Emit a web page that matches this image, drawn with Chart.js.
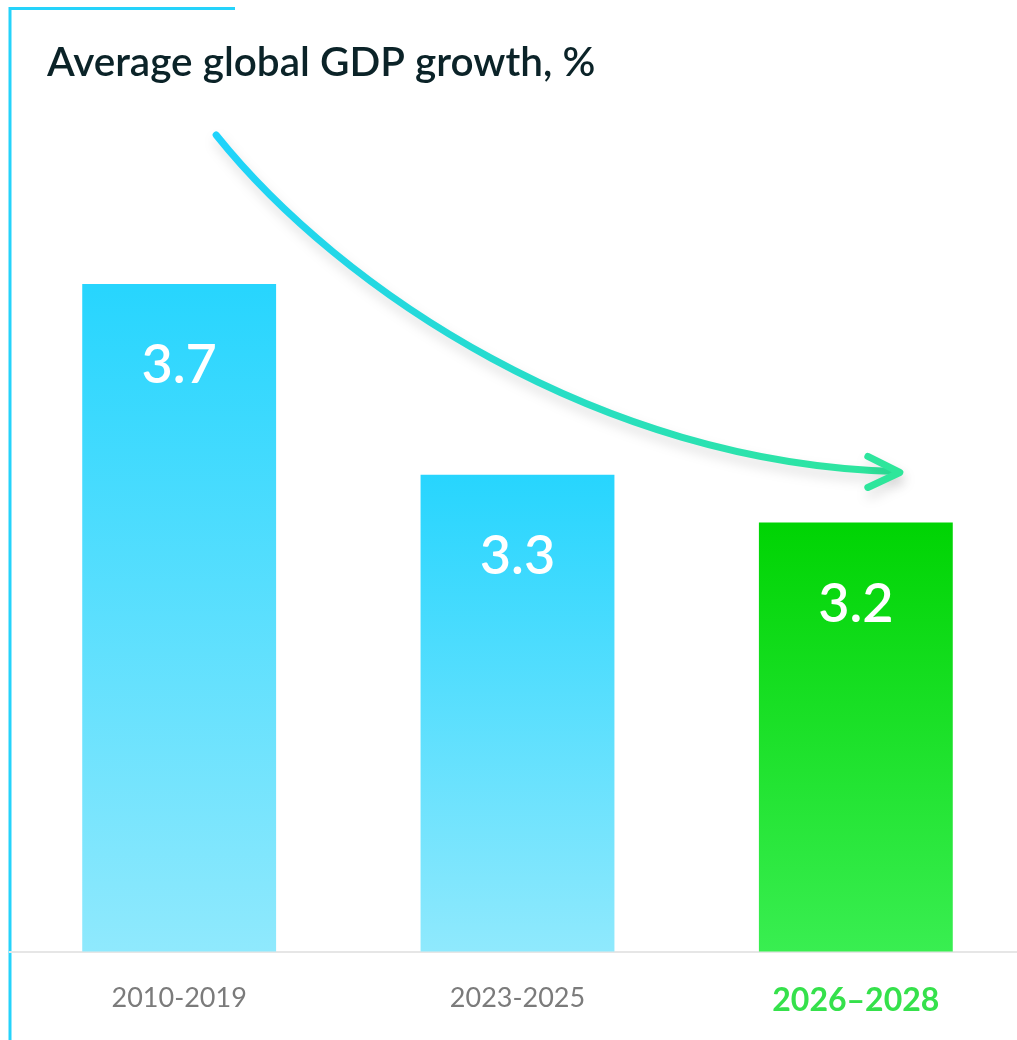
<!DOCTYPE html>
<html>
<head>
<meta charset="utf-8">
<script src="https://cdn.jsdelivr.net/npm/chart.js@4.4.1/dist/chart.umd.min.js"></script>
<style>
  html, body { margin: 0; padding: 0; background: #ffffff; overflow: hidden; width: 1017px; height: 1040px; }
  #wrap { position: absolute; left: 0; top: 0; width: 1030px; height: 1076px; }
</style>
</head>
<body>
<div id="wrap"><canvas id="gdp" width="1030" height="1076"></canvas></div>
<script>
// Average global GDP growth by period, %
const periods = ['2010-2019', '2023-2025', '2026\u20132028'];
const growth = [3.7, 3.3, 3.2];
const chartTitle = 'Average global GDP growth, %';

// colour ramps for each bar (top -> bottom)
const barTop = ['#27d5fe', '#27d5fe', '#00d403'];
const barBottom = ['#8fe9fd', '#8fe9fd', '#39ee51'];
const tickColors = ['#7b7b7b', '#7b7b7b', '#35e14b'];
const CYAN = '#25d3fb';

function barGradient(ctx) {
  const chart = ctx.chart;
  const area = chart.chartArea;
  if (!area) return barTop[ctx.dataIndex];
  const y = chart.scales.y.getPixelForValue(growth[ctx.dataIndex]);
  const g = chart.ctx.createLinearGradient(0, y, 0, area.bottom);
  g.addColorStop(0, barTop[ctx.dataIndex]);
  g.addColorStop(1, barBottom[ctx.dataIndex]);
  return g;
}

// frame lines, heading, value labels and the trend arrow
const decor = {
  id: 'decor',
  beforeDraw(chart) {
    const c = chart.ctx;
    c.save();
    c.strokeStyle = CYAN;
    c.lineWidth = 3;
    c.beginPath();
    c.moveTo(10, 1076);
    c.lineTo(10, 8.5);
    c.lineTo(235, 8.5);
    c.stroke();
    c.fillStyle = '#0b2328';
    c.font = '600 40.5px Lato';
    c.textAlign = 'left';
    c.textBaseline = 'middle';
    c.fillText(chartTitle, 47, 63);
    c.restore();
  },
  afterDatasetsDraw(chart) {
    const c = chart.ctx;
    const bars = chart.getDatasetMeta(0).data;
    c.save();
    c.fillStyle = '#ffffff';
    c.font = '600 54px Lato';
    c.textAlign = 'center';
    c.textBaseline = 'middle';
    bars.forEach((b, i) => {
      c.fillText(growth[i].toFixed(1), b.x, b.y + 82);
    });

    // trend arrow from above the first bar to above the last bar
    const first = bars[0], last = bars[bars.length - 1];
    const x0 = first.x + 37, y0 = 135;
    const x3 = last.x + 40, y3 = last.y - 51;
    const grad = c.createLinearGradient(x0, y0, x3, y3);
    grad.addColorStop(0, '#1fd3fc');
    grad.addColorStop(1, '#2ee69a');
    c.strokeStyle = grad;
    c.lineWidth = 7;
    c.lineCap = 'round';
    c.lineJoin = 'round';
    c.shadowColor = 'rgba(0,0,0,0.13)';
    c.shadowBlur = 12;
    c.shadowOffsetX = 2;
    c.shadowOffsetY = 7;
    c.beginPath();
    c.moveTo(x0, y0);
    c.bezierCurveTo(x0 + 124, y0 + 155, x3 - 296, y3 - 8, x3, y3);
    c.stroke();
    c.beginPath();
    c.moveTo(x3 - 28, y3 - 15);
    c.lineTo(x3 + 4, y3 + 1);
    c.lineTo(x3 - 28, y3 + 16);
    c.stroke();
    c.restore();
  }
};

new Chart(document.getElementById('gdp'), {
  type: 'bar',
  data: {
    labels: periods,
    datasets: [{
      data: growth,
      backgroundColor: barGradient,
      borderWidth: 0,
      barPercentage: 0.573,
      categoryPercentage: 1.0
    }]
  },
  options: {
    responsive: false,
    animation: false,
    devicePixelRatio: 1,
    layout: { padding: { top: 141, left: 10, right: 5, bottom: 26 } },
    plugins: {
      legend: { display: false },
      tooltip: { enabled: false },
      title: { display: false }
    },
    scales: {
      x: {
        grid: { display: false, drawTicks: false },
        border: { display: true, color: '#e6e6e6', width: 2 },
        ticks: {
          padding: 30,
          color: (ctx) => tickColors[ctx.index],
          font: (ctx) => ({
            family: 'Lato',
            size: ctx.index === 2 ? 32 : 27,
            weight: ctx.index === 2 ? '700' : '400',
            lineHeight: 1.2
          })
        }
      },
      y: {
        display: false,
        min: 2.3,
        max: 4.0
      }
    }
  },
  plugins: [decor]
});
</script>
</body>
</html>
